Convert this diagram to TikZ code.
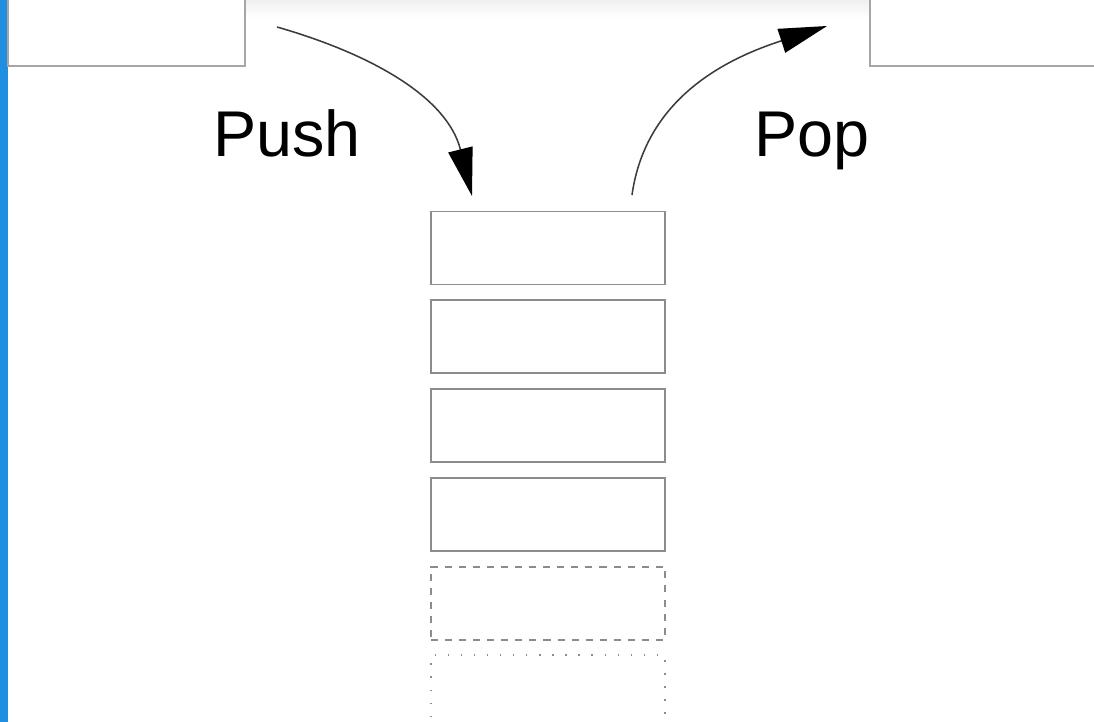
\documentclass[tikz,border=0pt]{standalone}
\usepackage{fontspec}
\setmainfont{Liberation Sans}
\usepackage{xcolor}
\usetikzlibrary{arrows.meta,positioning}
\definecolor{stkLine}{HTML}{8C8C8C}
\definecolor{stkTop}{HTML}{A6A6A6}
\definecolor{stkBar}{HTML}{1E8FE1}
\definecolor{stkArrow}{HTML}{3C3C3C}
\tikzset{
  slot/.style={
    rectangle,
    draw=stkLine,
    line width=1.4pt,
    fill=white,
    minimum width=5.85cm,
    minimum height=1.825cm,
    inner sep=0pt
  },
  dashslot/.style={slot, dash pattern=on 5pt off 5pt},
  dotslot/.style={slot, line width=1.1pt, dash pattern=on 1pt off 8.3pt},
  topbox/.style={slot, draw=stkTop, minimum width=5.925cm, minimum height=1.9cm},
  label/.style={font=\fontsize{46}{50}\selectfont, anchor=base},
  arrow/.style={-{Triangle[length=1.2cm,width=0.62cm,color=black]}, line width=1.1pt, draw=stkArrow}
}

\begin{document}
\begin{tikzpicture}[x=0.025cm,y=-0.025cm]
  \useasboundingbox (0,0) rectangle (1094,722);
  \clip (0,0) rectangle (1094,722);
  \shade[top color=gray!12, bottom color=white] (0,0) rectangle (1094,18);
  \fill[stkBar] (0,0) rectangle (8,722);
  % boxes on top
  \node[topbox] (source) at (126.5,28) {};
  \node[topbox] (target) at (988.5,28) {};
  % the stack
  \node[slot] (slot1) at (548,248) {};
  \node[slot, below=0.345cm of slot1] (slot2) {};
  \node[slot, below=0.345cm of slot2] (slot3) {};
  \node[slot, below=0.345cm of slot3] (slot4) {};
  \node[dashslot, below=0.345cm of slot4] (slot5) {};
  \node[dotslot, below=0.345cm of slot5] (slot6) {};
  % labels
  \node[label] (push) at (287,157) {Push};
  \node[label] (pop) at (812,157) {Pop};
  % arrows
  \coordinate (pushfrom) at (277,27);
  \coordinate (pushto) at (472,196);
  \coordinate (popfrom) at (632,195);
  \coordinate (popto) at (827,26);
  \draw[arrow] (pushfrom) to[out=-16, in=104] (pushto);
  \draw[arrow] (popfrom) to[out=82, in=198] (popto);
\end{tikzpicture}
\end{document}
